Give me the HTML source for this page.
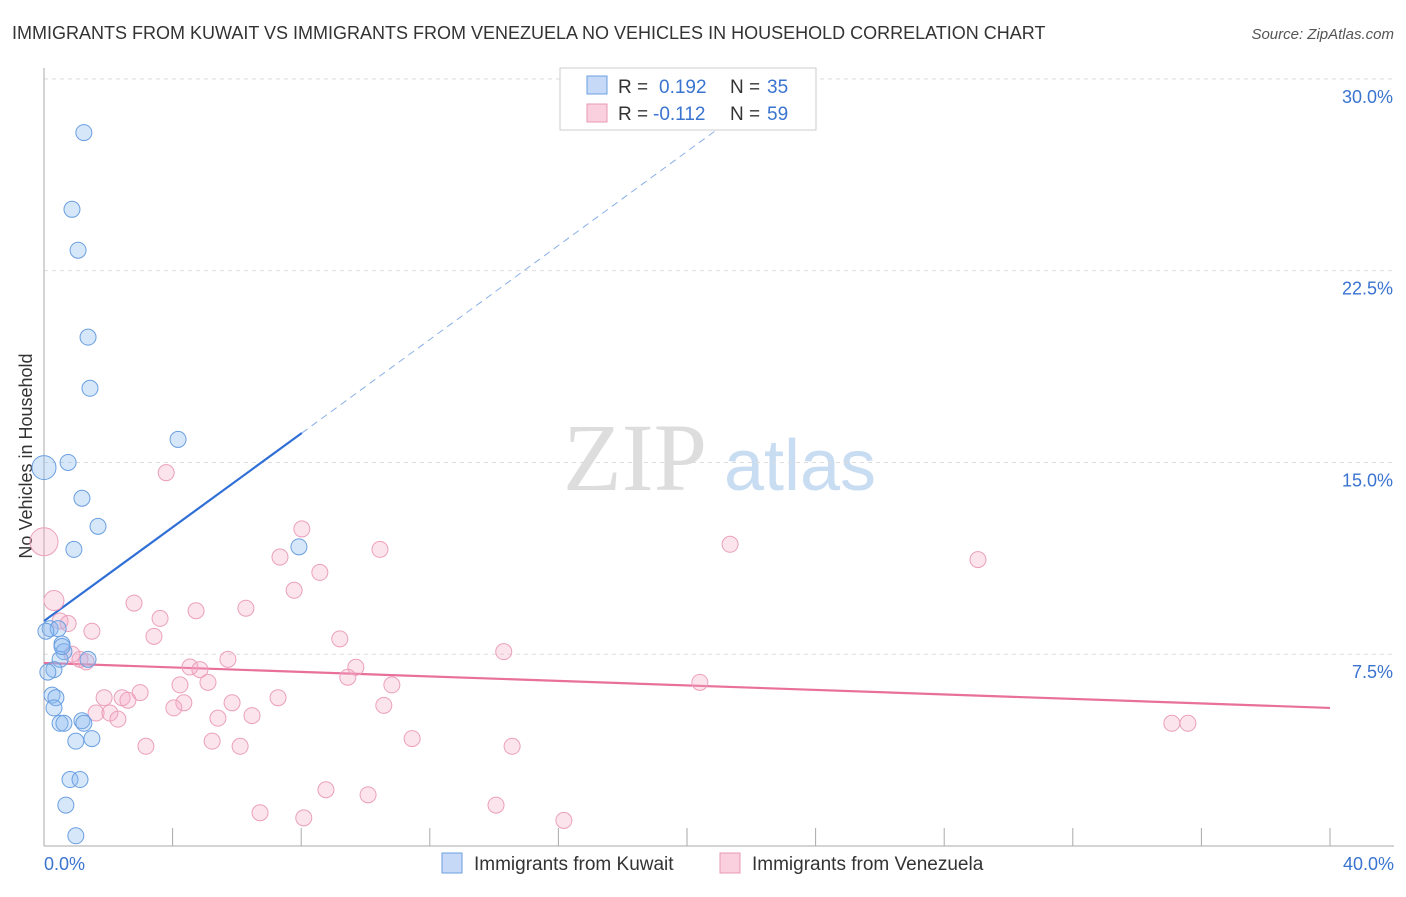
<!DOCTYPE html>
<html><head><meta charset="utf-8"><style>
body{margin:0;background:#fff;font-family:"Liberation Sans",sans-serif;}
svg text{font-family:"Liberation Sans",sans-serif;}
</style></head><body>
<svg id="chart" width="1406" height="892" xmlns="http://www.w3.org/2000/svg">
<text x="12" y="39" font-size="18" fill="#333">IMMIGRANTS FROM KUWAIT VS IMMIGRANTS FROM VENEZUELA NO VEHICLES IN HOUSEHOLD CORRELATION CHART</text>
<text x="1394" y="39" font-size="15" fill="#555" font-style="italic" text-anchor="end">Source: ZipAtlas.com</text>
<text x="32" y="456" font-size="18" fill="#333" text-anchor="middle" transform="rotate(-90 32 456)">No Vehicles in Household</text>
<g><text x="635" y="490" font-size="96" fill="#ddd" style="font-family:'Liberation Serif',serif" text-anchor="middle">ZIP</text><text x="800" y="490" font-size="72" fill="#c8dcf2" text-anchor="middle">atlas</text></g>
<g id="grid"></g><g id="axes"></g><g id="trends"></g><g id="points"></g>
<g>
<rect x="560" y="68" width="256" height="62" fill="#fff" stroke="#ccc"/>
<rect x="587" y="76" width="20" height="18" fill="#c6daf7" stroke="#6a9fe0"/>
<rect x="587" y="104" width="20" height="18" fill="#fbd0de" stroke="#e897b2"/>
<text x="618" y="93" font-size="19" fill="#333">R =</text><text x="659" y="93" font-size="19" fill="#3a74d0">0.192</text><text x="730" y="93" font-size="19" fill="#333">N =</text><text x="767" y="93" font-size="19" fill="#3a74d0">35</text>
<text x="618" y="120" font-size="19" fill="#333">R =</text><text x="653" y="120" font-size="19" fill="#3a74d0">-0.112</text><text x="730" y="120" font-size="19" fill="#333">N =</text><text x="767" y="120" font-size="19" fill="#3a74d0">59</text>
</g>
<g>
<rect x="442" y="853" width="20" height="20" fill="#c6daf7" stroke="#6a9fe0"/>
<text x="474" y="870" font-size="19" fill="#333">Immigrants from Kuwait</text>
<rect x="720" y="853" width="20" height="20" fill="#fbd0de" stroke="#e897b2"/>
<text x="752" y="870" font-size="19" fill="#333">Immigrants from Venezuela</text>
</g>
</svg>
<script>
const yTicks=[7.5,15.0,22.5,30.0];
const yTickLabels=["7.5%","15.0%","22.5%","30.0%"];
const xTickVals=[0,4,8,12,16,20,24,28,32,36,40];
const xEndLabels=["0.0%","40.0%"];
const kuwaitX=[1.24,0.87,1.06,1.37,1.43,4.17,0.75,0,1.18,1.68,0.93,7.93,0.19,0.44,0.06,0.56,0.62,0.5,1.37,0.31,0.25,0.37,0.31,0.5,0.62,1.18,1.24,0.99,1.49,0.81,1.12,0.68,0.99,0.12,0.56];
const kuwaitY=[27.9,24.9,23.3,19.9,17.9,15.9,15.0,14.8,13.6,12.5,11.6,11.7,8.5,8.5,8.4,7.9,7.6,7.3,7.3,6.9,5.9,5.8,5.4,4.8,4.8,4.9,4.8,4.1,4.2,2.6,2.6,1.6,0.4,6.8,7.8];
const venX=[0,0.31,0.5,0.75,1.49,0.87,1.12,1.31,3.8,8.02,7.34,10.45,8.58,7.78,2.8,4.73,6.28,3.61,3.42,9.2,14.3,21.34,29.05,4.54,4.85,5.72,9.7,4.23,5.1,9.45,10.82,20.4,1.87,2.43,2.99,2.61,5.85,7.28,4.35,4.04,10.57,1.62,2.05,2.3,5.41,6.47,3.17,5.23,6.1,11.45,14.56,35.08,35.58,6.72,8.08,8.77,10.08,14.06,16.17];
const venY=[11.9,9.6,8.8,8.7,8.4,7.5,7.3,7.2,14.6,12.4,11.3,11.6,10.7,10.0,9.5,9.2,9.3,8.9,8.2,8.1,7.6,11.8,11.2,7.0,6.9,7.3,6.99,6.3,6.4,6.6,6.3,6.4,5.8,5.8,6.0,5.7,5.6,5.8,5.6,5.4,5.5,5.2,5.2,4.96,5.0,5.1,3.9,4.1,3.9,4.2,3.9,4.8,4.8,1.3,1.1,2.2,2.0,1.6,1.0];
const venR=[14,10,8,8,8,8,8,8,8,8,8,8,8,8,8,8,8,8,8,8,8,8,8,8,8,8,8,8,8,8,8,8,8,8,8,8,8,8,8,8,8,8,8,8,8,8,8,8,8,8,8,8,8,8,8,8,8,8,8];
const kuwaitTrend=[[0,8.8],[8.02,16.15]];
const kuwaitTrendExt=[[8.02,16.15],[22,29.0]];
const venTrend=[[0,7.16],[40,5.4]];
const X=v=>44+v*32.15, Y=v=>846-v*25.57;
const NS="http://www.w3.org/2000/svg";
function mk(tag,attrs,parent){const e=document.createElementNS(NS,tag);for(const k in attrs)e.setAttribute(k,attrs[k]);document.getElementById(parent).appendChild(e);return e;}
yTicks.forEach((t,i)=>{
 const l=mk('line',{x1:44,x2:1394,y1:Y(t),y2:Y(t),stroke:'#ddd','stroke-dasharray':'4,4'},'grid');
 
 
 const tx=mk('text',{x:1393,y:Y(t)+24,'font-size':18,fill:'#3a74d0','text-anchor':'end'},'axes');
 tx.textContent=yTickLabels[i];
 
 
});
const topGrid=mk('line',{x1:44,x2:1394,y1:79,y2:79,stroke:'#ddd','stroke-dasharray':'4,4'},'grid');


const ya=mk('line',{x1:44,x2:44,y1:68,y2:846,stroke:'#aaa'},'axes');


const xa=mk('line',{x1:44,x2:1394,y1:846,y2:846,stroke:'#aaa'},'axes');


xTickVals.forEach(v=>{const t=mk('line',{x1:X(v),x2:X(v),y1:828,y2:846,stroke:'#aaa'},'axes');
 
 });
[[0,'start',44],[40,'end',1394]].forEach((a,i)=>{const t=mk('text',{x:a[2],y:870,'font-size':18,fill:'#3a74d0','text-anchor':a[1]},'axes');t.textContent=xEndLabels[i];
 
 });
venX.forEach((v,i)=>{const c=mk('circle',{cx:X(v),cy:Y(venY[i]),r:venR[i],fill:'rgba(244,165,195,0.3)',stroke:'#eba0bb','stroke-width':1},'points');
 
 });
kuwaitX.forEach((v,i)=>{const c=mk('circle',{cx:X(v),cy:Y(kuwaitY[i]),r:(i==7?12:8),fill:'rgba(140,185,240,0.35)',stroke:'#6a9fe0','stroke-width':1},'points');
 
 });
const t1=mk('line',{x1:X(kuwaitTrend[0][0]),y1:Y(kuwaitTrend[0][1]),x2:X(kuwaitTrend[1][0]),y2:Y(kuwaitTrend[1][1]),stroke:'#2f6fd6','stroke-width':2.2},'trends');


const t2=mk('line',{x1:X(kuwaitTrendExt[0][0]),y1:Y(kuwaitTrendExt[0][1]),x2:X(kuwaitTrendExt[1][0]),y2:Y(kuwaitTrendExt[1][1]),stroke:'#8ab0e6','stroke-width':1,'stroke-dasharray':'7,5'},'trends');


const t3=mk('line',{x1:X(venTrend[0][0]),y1:Y(venTrend[0][1]),x2:X(venTrend[1][0]),y2:Y(venTrend[1][1]),stroke:'#e8709a','stroke-width':2.2},'trends');


</script>
</body></html>
